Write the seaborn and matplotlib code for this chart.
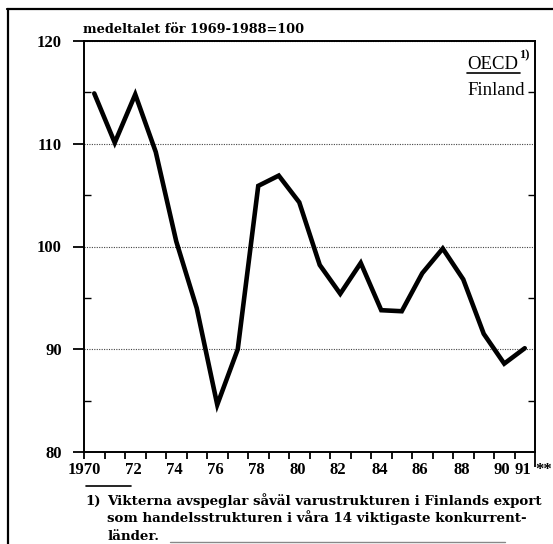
import matplotlib
matplotlib.use("Agg")
import matplotlib.pyplot as plt
from matplotlib.lines import Line2D
from matplotlib.ticker import FixedLocator, MultipleLocator
import seaborn as sns
import pandas as pd

# ---------------- data ----------------
years = list(range(1970, 1992))
index_values = [114.9, 110.1, 114.8, 109.2, 100.5, 94.0, 84.6, 90.0, 105.9, 106.9,
                104.3, 98.2, 95.4, 98.4, 93.8, 93.7, 97.4, 99.8, 96.8, 91.5, 88.6, 90.1]
y_ticks = [80, 90, 100, 110, 120]
x_tick_years = [1970, 1972, 1974, 1976, 1978, 1980, 1982, 1984, 1986, 1988, 1990, 1991, 1992]
x_tick_labels = ["1970", "72", "74", "76", "78", "80", "82", "84", "86", "88", "90", "91", "**"]
title_text = "medeltalet för 1969-1988=100"
legend_top = "OECD"
legend_sup = "1)"
legend_bottom = "Finland"
footnote_mark = "1)"
footnote_lines = [
    "Vikterna avspeglar såväl varustrukturen i Finlands export",
    "som handelsstrukturen i våra 14 viktigaste konkurrent-",
    "länder.",
]

# ---------------- style ----------------
sns.set_style("ticks")
TICKFONT = ["Liberation Serif", "DejaVu Serif"]
TEXTFONT = ["DejaVu Serif"]
NARROW = ["Liberation Serif", "DejaVu Serif"]
plt.rcParams["font.family"] = TICKFONT
plt.rcParams["font.weight"] = "bold"
plt.rcParams["text.color"] = "black"
plt.rcParams["xtick.color"] = "black"
plt.rcParams["ytick.color"] = "black"
plt.rcParams["xtick.labelcolor"] = "black"
plt.rcParams["ytick.labelcolor"] = "black"

W, H = 553, 544
fig = plt.figure(figsize=(W / 100, H / 100), dpi=100)
fig.patch.set_facecolor("white")

def fx(px):
    return px / W

def fy(py):
    return 1 - py / H

left, right, top, bottom = 84, 535, 41, 452
ax = fig.add_axes([fx(left), fy(bottom), fx(right - left), (bottom - top) / H])

df = pd.DataFrame({"year": years, "value": index_values})
df["x"] = df["year"] + 0.5  # values plotted at mid-year
sns.lineplot(data=df, x="x", y="value", ax=ax, color="black", linewidth=3.3,
             solid_joinstyle="miter", legend=False)

ax.set_xlim(1970, 1992)
ax.set_ylim(80, 120)
ax.set_xlabel("")
ax.set_ylabel("")

for s in ax.spines.values():
    s.set_visible(True)
    s.set_linewidth(1.4)
    s.set_color("black")

# y ticks
ax.yaxis.set_major_locator(FixedLocator(y_ticks))
ax.yaxis.set_minor_locator(MultipleLocator(5))
ax.set_yticklabels([str(v) for v in y_ticks], fontsize=12, fontweight="bold")
ax.tick_params(axis="y", which="major", direction="out", length=8, width=1.3, pad=8,
               left=True, right=False, colors="black")
ax.tick_params(axis="y", which="minor", direction="in", length=5, width=1.0,
               left=True, right=True, colors="black")

# x ticks
ax.xaxis.set_major_locator(FixedLocator(x_tick_years))
ax.xaxis.set_minor_locator(MultipleLocator(1))
ax.set_xticklabels(x_tick_labels, fontsize=12, fontweight="bold")
ax.tick_params(axis="x", which="both", direction="out", length=5, width=1.3, pad=2.5,
               colors="black")
for i, lbl in enumerate(ax.get_xticklabels()):
    lbl.set_ha("center" if i == 0 else "left")
ax.xaxis.get_major_ticks()[-1].tick1line.set_markersize(11)

# dotted gridlines
ax.grid(axis="y", which="major", linestyle=(0, (1, 1.2)), color="#444444", linewidth=0.8)
ax.grid(axis="x", visible=False)

# title
fig.text(fx(83), fy(33), title_text, family=TEXTFONT, fontsize=9.3, fontweight="bold",
         ha="left", va="baseline")

# OECD / Finland label
t_oecd = fig.text(fx(467), fy(69), legend_top, family=NARROW, fontweight="normal",
                  fontsize=13.5, ha="left", va="baseline")
fig.canvas.draw()
bb = t_oecd.get_window_extent()
fig.text(bb.x1 / W + fx(1), fy(58), legend_sup, family=TICKFONT, fontweight="bold",
         fontsize=9, ha="left", va="baseline")
fig.add_artist(Line2D([fx(467), fx(520)], [fy(73), fy(73)], color="black", linewidth=1.2))
fig.text(fx(467), fy(95), legend_bottom, family=NARROW, fontweight="normal",
         fontsize=13.5, ha="left", va="baseline")

# footnote
fig.add_artist(Line2D([fx(86), fx(131)], [fy(486), fy(486)], color="black", linewidth=1.2))
fig.text(fx(85), fy(505), footnote_mark, family=TEXTFONT, fontsize=9.6, fontweight="bold",
         ha="left", va="baseline")
for i, line in enumerate(footnote_lines):
    fig.text(fx(107), fy(505 + i * 17.3), line, family=TEXTFONT, fontsize=9.6,
             fontweight="bold", ha="left", va="baseline")

# outer frame (left and top edges, faint bottom rule)
fig.add_artist(Line2D([fx(7), fx(553)], [fy(9), fy(9)], color="black", linewidth=1.6))
fig.add_artist(Line2D([fx(8), fx(8)], [fy(9), fy(544)], color="black", linewidth=1.6))
fig.add_artist(Line2D([fx(170), fx(505)], [fy(542), fy(542)], color="#888888", linewidth=1.0))

fig.savefig("out.png", dpi=100, facecolor="white")
